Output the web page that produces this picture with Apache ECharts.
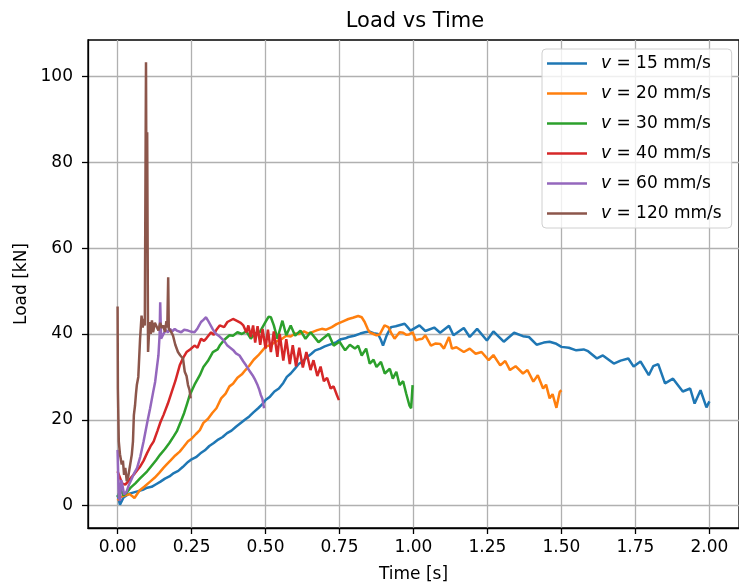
<!DOCTYPE html>
<html lang="en">
<head>
    <meta charset="UTF-8">
    <title>Load vs Time</title>
    <style>
        html,body{
            padding: 0;
            margin: 0;
            background: #fff;
        }
        .chart{
            width: 739px;
            height: 588px;
        }
    </style>
    <script src="https://cdn.jsdelivr.net/npm/echarts@6/dist/echarts.min.js"></script>
</head>
<body>
<div class="chart"></div>
<script>
    // [time (s), load (kN)]
    const load15 = [[0.000,2.5],[0.008,0.2],[0.014,0.3],[0.02,1.9],[0.03,2.4],[0.04,2.8],[0.055,3.1],[0.07,3.4],[0.085,3.7],[0.10,4.2],[0.115,4.4],[0.13,5.0],[0.145,5.6],[0.16,6.3],[0.175,6.8],[0.19,7.6],[0.205,8.1],[0.22,9.0],[0.238,10.2],[0.25,10.8],[0.265,11.3],[0.28,12.2],[0.295,12.9],[0.31,13.9],[0.325,14.6],[0.34,15.4],[0.355,16.0],[0.37,16.9],[0.385,17.5],[0.40,18.4],[0.415,19.2],[0.43,20.0],[0.445,20.8],[0.46,21.8],[0.475,22.7],[0.49,23.7],[0.50,24.6],[0.515,25.4],[0.53,26.6],[0.545,27.3],[0.56,28.6],[0.572,30.0],[0.585,30.8],[0.60,32.0],[0.612,33.0],[0.625,33.6],[0.64,34.6],[0.655,35.4],[0.668,36.2],[0.685,36.6],[0.70,37.1],[0.712,37.4],[0.724,37.7],[0.74,38.1],[0.755,38.8],[0.77,39.0],[0.78,39.3],[0.80,39.6],[0.82,40.1],[0.836,40.4],[0.85,40.6],[0.865,40.2],[0.88,40.0],[0.89,38.6],[0.897,37.3],[0.91,39.8],[0.924,41.6],[0.94,41.8],[0.955,42.1],[0.97,42.4],[0.98,41.6],[0.99,40.8],[1.0,41.2],[1.02,42.0],[1.04,40.7],[1.07,41.5],[1.09,40.3],[1.12,41.9],[1.135,39.7],[1.17,41.4],[1.19,39.3],[1.215,41.2],[1.248,38.5],[1.27,40.6],[1.305,38.2],[1.34,40.3],[1.37,39.5],[1.39,39.3],[1.416,37.5],[1.44,38.0],[1.46,38.2],[1.48,37.8],[1.5,37.0],[1.525,36.8],[1.55,36.2],[1.575,36.4],[1.59,36.0],[1.62,34.3],[1.64,35.0],[1.677,33.1],[1.70,33.8],[1.726,34.3],[1.744,32.4],[1.767,33.6],[1.795,30.4],[1.81,32.5],[1.827,33.0],[1.85,28.5],[1.877,29.6],[1.91,26.6],[1.935,27.3],[1.95,23.8],[1.97,26.9],[1.99,22.9],[2.0,24.3]];

    const load20 = [[0.0,1.2],[0.01,2.0],[0.02,2.3],[0.03,2.5],[0.04,2.7],[0.05,2.2],[0.057,1.8],[0.065,2.6],[0.075,3.6],[0.09,4.4],[0.11,5.6],[0.125,6.5],[0.14,7.6],[0.155,8.8],[0.166,9.6],[0.18,10.6],[0.195,11.7],[0.21,12.6],[0.222,13.6],[0.238,15.0],[0.25,15.6],[0.265,16.7],[0.278,17.6],[0.29,19.3],[0.305,20.2],[0.32,21.6],[0.334,22.7],[0.35,25.0],[0.365,26.1],[0.378,27.8],[0.39,28.4],[0.405,29.8],[0.42,30.6],[0.432,31.6],[0.445,32.6],[0.46,34.0],[0.475,35.0],[0.49,36.2],[0.50,37.0],[0.515,37.4],[0.53,38.0],[0.545,38.6],[0.556,38.9],[0.57,39.6],[0.585,39.4],[0.60,40.1],[0.612,40.0],[0.63,40.6],[0.645,40.1],[0.66,40.5],[0.675,40.9],[0.69,41.2],[0.705,41.0],[0.724,41.6],[0.74,42.3],[0.76,42.9],[0.78,43.5],[0.795,43.8],[0.813,44.2],[0.825,43.9],[0.835,42.8],[0.845,41.2],[0.852,40.4],[0.865,40.0],[0.875,39.7],[0.886,39.9],[0.902,42.0],[0.915,41.6],[0.925,40.2],[0.936,38.9],[0.953,40.4],[0.965,40.3],[0.975,39.8],[0.985,39.9],[0.997,40.4],[1.008,38.5],[1.02,38.8],[1.03,38.9],[1.04,39.7],[1.059,37.3],[1.075,37.8],[1.09,37.7],[1.103,36.6],[1.12,39.3],[1.13,36.6],[1.145,36.9],[1.17,35.8],[1.19,36.6],[1.21,35.4],[1.23,35.8],[1.254,33.9],[1.27,35.1],[1.293,32.7],[1.31,33.7],[1.326,31.6],[1.345,32.5],[1.37,30.8],[1.385,31.6],[1.405,28.9],[1.42,30.4],[1.438,27.3],[1.448,28.2],[1.46,25.0],[1.47,26.0],[1.483,22.8],[1.494,26.5],[1.5,26.9]];

    const load30 = [[0.0,2.0],[0.01,3.8],[0.02,2.4],[0.03,3.0],[0.044,4.2],[0.06,5.2],[0.075,6.3],[0.088,7.2],[0.10,8.0],[0.115,9.3],[0.13,10.6],[0.144,11.9],[0.16,13.2],[0.175,14.6],[0.19,16.2],[0.2,17.3],[0.213,19.5],[0.225,21.6],[0.235,23.8],[0.244,25.8],[0.26,28.2],[0.278,30.4],[0.29,32.3],[0.305,33.7],[0.322,35.8],[0.338,36.4],[0.345,37.3],[0.36,38.6],[0.378,39.7],[0.39,39.6],[0.405,40.4],[0.42,40.0],[0.435,40.6],[0.45,38.9],[0.465,40.2],[0.48,40.4],[0.5,42.8],[0.51,44.0],[0.518,43.9],[0.528,42.0],[0.54,38.9],[0.557,43.1],[0.57,39.7],[0.585,42.0],[0.60,39.6],[0.618,40.8],[0.635,38.9],[0.652,40.4],[0.679,38.1],[0.695,39.0],[0.713,40.0],[0.73,37.3],[0.75,38.2],[0.769,36.2],[0.785,37.5],[0.802,36.6],[0.813,37.3],[0.825,35.0],[0.84,36.6],[0.852,33.1],[0.865,34.0],[0.875,32.3],[0.89,33.5],[0.903,30.8],[0.92,31.9],[0.93,29.6],[0.942,31.2],[0.953,28.1],[0.965,29.0],[0.975,26.2],[0.986,23.4],[0.992,22.7],[0.997,28.1]];

    const load40 = [[0.0,8.0],[0.008,6.5],[0.015,5.2],[0.026,4.9],[0.035,5.6],[0.045,6.5],[0.059,7.6],[0.075,9.0],[0.088,10.5],[0.1,12.3],[0.111,13.8],[0.122,15.0],[0.135,17.5],[0.145,19.5],[0.155,21.1],[0.17,23.8],[0.183,26.5],[0.195,29.0],[0.21,32.7],[0.222,34.5],[0.233,35.8],[0.245,36.4],[0.26,37.3],[0.27,36.8],[0.282,38.9],[0.292,38.4],[0.3,39.0],[0.316,40.4],[0.325,39.8],[0.334,41.0],[0.345,42.0],[0.36,41.6],[0.371,42.8],[0.39,43.5],[0.405,43.0],[0.416,42.6],[0.425,42.0],[0.435,40.4],[0.442,42.0],[0.45,39.3],[0.458,42.0],[0.465,38.0],[0.473,41.8],[0.482,37.5],[0.49,41.2],[0.5,36.6],[0.508,41.0],[0.518,35.8],[0.528,40.6],[0.54,34.7],[0.548,40.0],[0.56,33.8],[0.57,38.8],[0.582,33.0],[0.592,37.4],[0.603,32.5],[0.614,36.8],[0.626,32.2],[0.638,35.8],[0.652,31.6],[0.662,33.9],[0.675,30.2],[0.686,32.4],[0.697,29.0],[0.708,29.8],[0.72,27.3],[0.73,27.8],[0.741,25.8],[0.748,24.6]];

    const load60 = [[0.0,13.0],[0.004,2.0],[0.008,1.1],[0.012,6.0],[0.016,4.9],[0.022,2.6],[0.03,3.2],[0.038,4.8],[0.044,5.7],[0.055,7.4],[0.066,8.8],[0.077,11.5],[0.088,15.0],[0.1,19.3],[0.11,22.7],[0.12,26.4],[0.127,28.9],[0.133,32.3],[0.138,35.0],[0.142,39.7],[0.144,47.4],[0.147,38.9],[0.155,40.0],[0.163,40.9],[0.17,40.4],[0.177,41.2],[0.185,40.6],[0.193,41.2],[0.2,40.8],[0.215,40.4],[0.225,41.0],[0.238,40.8],[0.25,40.5],[0.26,40.4],[0.27,41.3],[0.282,42.8],[0.29,43.3],[0.299,43.9],[0.305,43.2],[0.31,43.5],[0.321,41.2],[0.33,40.2],[0.345,39.4],[0.36,38.4],[0.371,37.3],[0.39,36.3],[0.4,35.5],[0.412,35.0],[0.425,33.6],[0.434,32.7],[0.445,31.5],[0.456,30.4],[0.465,29.3],[0.473,28.1],[0.478,27.2],[0.484,25.8],[0.489,25.0],[0.495,22.7]];

    const load120 = [[0.0,46.4],[0.001,27.3],[0.004,15.0],[0.008,12.0],[0.014,9.6],[0.018,10.5],[0.022,7.2],[0.026,8.8],[0.031,5.7],[0.036,6.8],[0.042,6.5],[0.048,11.9],[0.052,15.0],[0.055,21.1],[0.059,23.4],[0.062,26.0],[0.065,28.1],[0.07,30.0],[0.076,38.9],[0.081,44.3],[0.085,41.5],[0.088,43.5],[0.092,42.0],[0.096,103.3],[0.098,60.0],[0.1,87.0],[0.103,35.8],[0.108,42.8],[0.112,40.0],[0.116,43.2],[0.12,40.4],[0.126,42.6],[0.132,42.8],[0.138,40.8],[0.144,42.6],[0.15,41.4],[0.154,42.0],[0.16,40.5],[0.165,43.0],[0.168,41.5],[0.171,53.2],[0.173,41.2],[0.18,40.6],[0.187,39.7],[0.195,37.5],[0.204,35.8],[0.212,35.0],[0.221,34.3],[0.227,31.2],[0.233,30.2],[0.238,28.1],[0.243,27.0],[0.247,25.0]];

    const speeds = [15, 20, 30, 40, 60, 120];
    const loads = [load15, load20, load30, load40, load60, load120];
    const colors = ['#1f77b4', '#ff7f0e', '#2ca02c', '#d62728', '#9467bd', '#8c564b'];

    const xTicks = [0, 0.25, 0.5, 0.75, 1.0, 1.25, 1.5, 1.75, 2.0];
    const yTicks = [0, 20, 40, 60, 80, 100];

    const font = 'DejaVu Sans';

    let chart = echarts.init(document.querySelector('.chart'), null, {renderer: 'canvas'});

    let series = speeds.map((s, i) => ({
        name: 'v = ' + s + ' mm/s',
        type: 'line',
        data: loads[i],
        symbol: 'none',
        showSymbol: false,
        color: colors[i],
        lineStyle: {width: 2.5, color: colors[i]},
        animation: false
    }));

    let option = {
        backgroundColor: '#fff',
        animation: false,
        title: {
            text: 'Load vs Time',
            left: 415,
            top: 11,
            padding: 0,
            textAlign: 'center',
            textStyle: {fontFamily: font, fontSize: 21, fontWeight: 'normal', color: '#000'}
        },
        legend: {
            orient: 'vertical',
            left: 542,
            top: 49,
            padding: [6, 10, 6, 5],
            itemWidth: 40,
            itemHeight: 14,
            itemGap: 13,
            icon: 'path://M0,0 L40,0 L40,2.5 L0,2.5 Z',
            backgroundColor: 'rgba(255,255,255,0.8)',
            borderColor: '#d0d0d0',
            borderWidth: 1,
            borderRadius: 4,
            formatter: name => '{i|v} ' + name.slice(2),
            textStyle: {
                fontFamily: font,
                fontSize: 17,
                color: '#000',
                padding: [0, 0, 0, 9],
                rich: {
                    i: {fontFamily: font, fontStyle: 'italic', fontSize: 17, color: '#000'}
                }
            }
        },
        grid: {
            left: 88,
            top: 40,
            width: 656,
            height: 490,
            show: true,
            borderColor: '#000',
            borderWidth: 1.3,
            backgroundColor: 'transparent'
        },
        xAxis: {
            type: 'value',
            min: -0.1,
            max: 2.1,
            name: 'Time [s]',
            nameLocation: 'middle',
            nameGap: 38,
            nameTextStyle: {fontFamily: font, fontSize: 17, color: '#000'},
            axisLine: {show: true, onZero: false, lineStyle: {color: '#000', width: 1.3}},
            axisTick: {show: true, customValues: xTicks, length: 6, lineStyle: {color: '#000', width: 1.3}},
            axisLabel: {
                customValues: xTicks,
                formatter: v => v.toFixed(2),
                fontFamily: font,
                fontSize: 17,
                color: '#000',
                margin: 11
            },
            splitLine: {show: true, lineStyle: {color: '#b0b0b0', width: 1.3}}
        },
        yAxis: {
            type: 'value',
            min: -5.2,
            max: 108.5,
            name: 'Load [kN]',
            nameLocation: 'middle',
            nameGap: 57,
            nameTextStyle: {fontFamily: font, fontSize: 17, color: '#000'},
            axisLine: {show: true, onZero: false, lineStyle: {color: '#000', width: 1.3}},
            axisTick: {show: true, customValues: yTicks, length: 6, lineStyle: {color: '#000', width: 1.3}},
            axisLabel: {
                customValues: yTicks,
                fontFamily: font,
                fontSize: 17,
                color: '#000',
                margin: 15
            },
            splitLine: {show: true, lineStyle: {color: '#b0b0b0', width: 1.3}}
        },
        series: series
    };

    chart.setOption(option);
</script>
</body>
</html>
